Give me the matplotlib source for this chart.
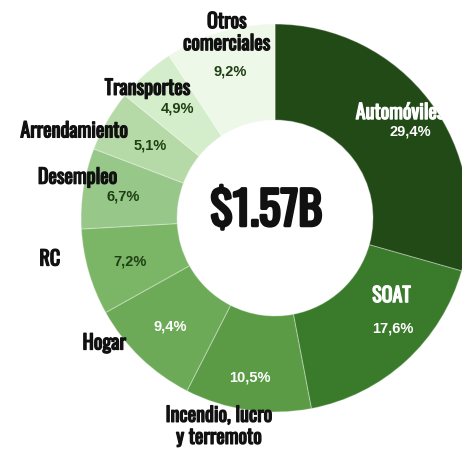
import numpy as np
import matplotlib
matplotlib.use("Agg")
import matplotlib.pyplot as plt
import matplotlib.patheffects as pe

# Insurance premium share by line of business
categories = ["Automóviles", "SOAT", "Incendio, lucro\ny terremoto", "Hogar", "RC",
              "Desempleo", "Arrendamiento", "Transportes", "Otros\ncomerciales"]
shares = [29.4, 17.6, 10.5, 9.4, 7.2, 6.7, 5.1, 4.9, 9.2]
share_labels = ["29,4%", "17,6%", "10,5%", "9,4%", "7,2%", "6,7%", "5,1%", "4,9%", "9,2%"]
total_label = "$1.57B"

colors = ["#224a17", "#3a7a2b", "#5b9b46", "#6daa58", "#7bb667",
          "#97c789", "#b5daa7", "#d4edcb", "#edf8e9"]
pct_colors = ["white", "white", "white", "white", "#1f3f14",
              "#1f3f14", "#1f3f14", "#1f3f14", "#1f3f14"]
name_colors = ["white", "white", "#111111", "#111111", "#111111",
               "#111111", "#111111", "#111111", "#111111"]

# label placement: (radius, angle shift in degrees) relative to wedge middle
pct_layout = [(0.825, -4.5), (0.835, 4.3), (0.835, -1), (0.78, 0), (0.78, 0.7),
              (0.79, 0.6), (0.745, 0), (0.756, -0.5), (0.79, 0.4)]
name_layout = [(0.845, 3.2), (0.72, 14), (1.11, -7), (1.09, -10), (1.18, -6),
               (1.04, -3), (1.13, 6.5), (0.94, 2.5), (0.99, -2)]

cond = ["Oswald", "Roboto Condensed", "DejaVu Sans"]

fig = plt.figure(figsize=(4.62, 4.5), dpi=100)
ax = fig.add_axes([0, 0, 1, 1])

wedges, _ = ax.pie(shares, colors=colors, startangle=90, counterclock=False,
                   radius=1.0, wedgeprops=dict(width=0.495, linewidth=0.8,
                                               edgecolor=(1, 1, 1, 0.3)))

for i, w in enumerate(wedges):
    mid = (w.theta1 + w.theta2) / 2
    r, s = pct_layout[i]
    a = np.deg2rad(mid + s)
    ax.text(r * np.cos(a), r * np.sin(a), share_labels[i], ha="center", va="center",
            fontsize=10.5, fontweight="bold", color=pct_colors[i],
            family="Liberation Sans")
    r, s = name_layout[i]
    a = np.deg2rad(mid + s)
    ax.text(r * np.cos(a), r * np.sin(a), categories[i], ha="center", va="center",
            fontsize=14.5, color=name_colors[i], family=cond, linespacing=1.12,
            path_effects=[pe.withStroke(linewidth=0.9, foreground=name_colors[i])])

ax.text(-0.045, 0.035, total_label, ha="center", va="center", fontsize=33,
        color="#111111", family=cond,
        path_effects=[pe.withStroke(linewidth=2.2, foreground="#111111")])

ax.set_xlim(-1.418, 0.964)
ax.set_ylim(-1.196, 1.124)
ax.set_aspect("equal")
ax.axis("off")

fig.savefig("out.png", dpi=100, facecolor="white")
